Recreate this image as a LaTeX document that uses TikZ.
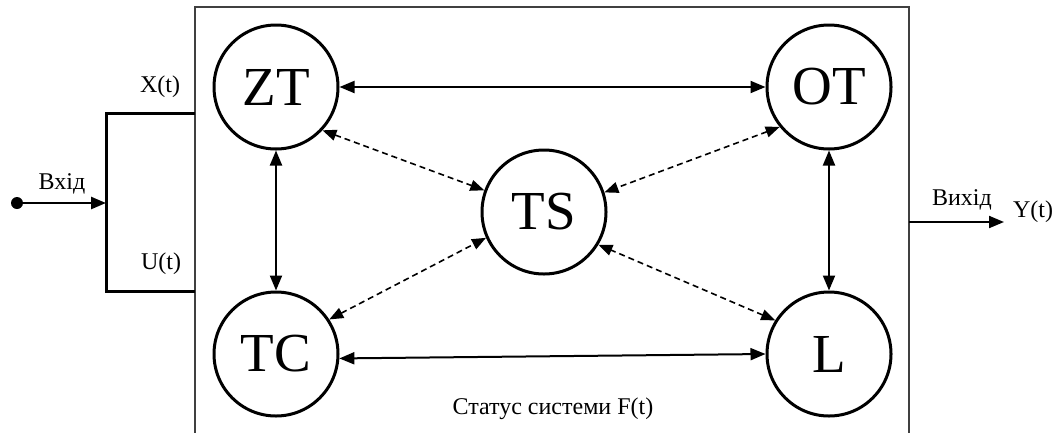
\documentclass[tikz,border=0pt]{standalone}
\usepackage{fontspec}
\setmainfont{Liberation Serif}
\usetikzlibrary{arrows.meta}
\begin{document}
\begin{tikzpicture}[x=1pt,y=-1pt,
  state/.style={circle, draw, line width=3pt, minimum size=124pt, inner sep=0pt, font=\fontsize{55}{55}\selectfont},
  lbl/.style={font=\fontsize{24}{24}\selectfont, inner sep=0pt},
  tipend/.style={-{Triangle[length=15pt,width=12pt]}},
  twoway/.style={{Triangle[length=15pt,width=12pt]}-{Triangle[length=15pt,width=12pt]}, line width=2pt},
  dashtwo/.style={{Triangle[length=14pt,width=11pt]}-{Triangle[length=14pt,width=11pt]}, line width=1.6pt, dash pattern=on 6pt off 4pt}
]
\useasboundingbox (0,0) rectangle (1057,432);
% frame
\coordinate (fbl) at (195,450);
\coordinate (ftl) at (195,7);
\coordinate (ftr) at (909,7);
\coordinate (fbr) at (909,450);
\draw[line width=2pt, draw=black!75] (fbl) -- (ftl) -- (ftr) -- (fbr);
% states
\node[state] (ZT) at (276,87) {ZT};
\node[state] (OT) at (829,87) {OT};
\node[state] (TS) at (544,212) {TS};
\node[state] (TC) at (276,354) {TC};
\node[state] (L)  at (829,354) {L};
% solid connectors
\draw[twoway] (ZT) -- (OT);
\draw[twoway] (TC.-4) -- (L.180);
\draw[twoway] (ZT) -- (TC);
\draw[twoway] (OT) -- (L);
% dashed connectors
\draw[dashtwo] (ZT.-43) -- (TS.160);
\draw[dashtwo] (TC.33) -- (TS.204);
\draw[dashtwo] (OT.219) -- (TS.18);
\draw[dashtwo] (L.148) -- (TS.-31);
% input
\coordinate (bt) at (106,113);
\coordinate (bb) at (106,291);
\coordinate (bxt) at (195,113);
\coordinate (bxb) at (195,291);
\draw[line width=3pt] (bxt) -- (bt) -- (bb) -- (bxb);
\node[circle, fill, minimum size=12pt, inner sep=0pt] (dot) at (17,203) {};
\coordinate (bin) at (106,203);
\draw[line width=2.5pt, tipend] (dot) -- (bin);
\node[lbl] (vhid) at (62,184) {Вхід};
\node[lbl] (xt) at (160,87) {X(t)};
\node[lbl] (ut) at (161,264) {U(t)};
% output
\coordinate (outs) at (909,222);
\coordinate (oute) at (1004,222);
\draw[line width=2pt, tipend] (outs) -- (oute);
\node[lbl] (vyhid) at (962,200) {Вихід};
\node[lbl] (yt) at (1033,212) {Y(t)};
% status
\node[lbl] (status) at (553,409) {Статус системи F(t)};
\end{tikzpicture}
\end{document}
